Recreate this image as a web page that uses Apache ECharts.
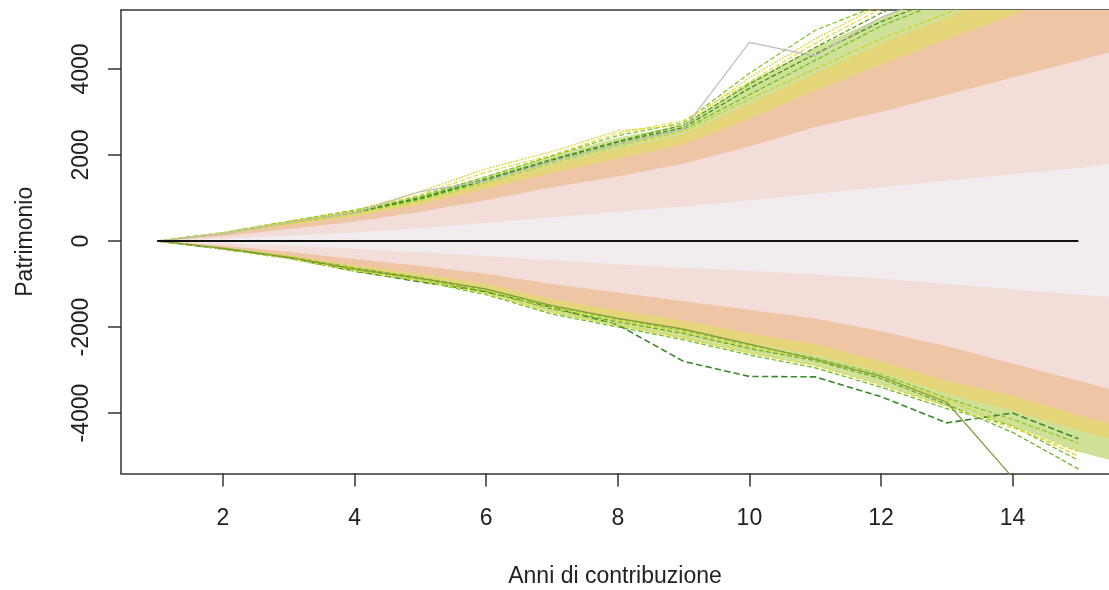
<!DOCTYPE html>
<html><head><meta charset="utf-8">
<script src="https://cdn.jsdelivr.net/npm/echarts@6/dist/echarts.min.js"></script>
<style>html,body{margin:0;padding:0;background:#fff}#c{width:1109px;height:590px}</style>
</head><body><div id="c"></div>
<script>
// ---- data ----
const bandYears = [1,2,3,4,5,6,7,8,9,10,11,12,13,14,15,15.5];
// upper envelope levels (outer -> inner)
const upOuter  = [0,195,460,700,1050,1500,1980,2400,2700,3700,4500,5200,5800,6400,7000,7300];
const upGreen  = [0,170,410,630,930,1330,1760,2140,2480,3200,3900,4600,5200,5800,6400,6700];
const upYellow = [0,150,370,570,850,1220,1580,1920,2250,2850,3500,4100,4700,5250,5850,6100];
const upTan    = [0,110,280,450,680,950,1250,1500,1800,2200,2650,3000,3400,3800,4200,4400];
const upPink   = [0,50,120,200,300,420,550,680,800,950,1100,1250,1400,1550,1700,1800];
// lower envelope levels (outer -> inner)
const loOuter  = [0,-190,-410,-700,-930,-1230,-1680,-1980,-2280,-2620,-2900,-3350,-3850,-4300,-4900,-5100];
const loGreen  = [0,-170,-370,-630,-840,-1100,-1500,-1780,-2050,-2380,-2650,-3050,-3550,-3950,-4400,-4600];
const loYellow = [0,-150,-330,-570,-760,-1000,-1350,-1620,-1850,-2150,-2400,-2800,-3250,-3600,-4050,-4250];
const loTan    = [0,-110,-250,-420,-580,-760,-1000,-1200,-1400,-1600,-1800,-2100,-2450,-2850,-3250,-3450];
const loPink   = [0,-50,-110,-180,-260,-350,-450,-540,-620,-700,-780,-880,-1000,-1120,-1250,-1300];

// individual outlying paths
const pathYears = [1,2,3,4,5,6,7,8,9,10,11,12,13,14,15];
const upG1   = [0,185,450,690,1010,1450,1900,2320,2700,3650,4500,5300,6000,null,null];
const upG2   = [0,175,420,650,970,1400,1850,2250,2600,3400,4200,5000,5600,6300,null];
const upG3   = [0,180,430,670,990,1420,1880,2300,2640,3550,4350,5100,5700,6400,7000];
const upG4   = [0,195,460,720,1050,1500,1980,2450,2750,3900,4900,5500,null,null,null];
const upY1   = [0,190,460,700,1150,1680,2080,2560,2700,3800,4700,5500,null,null,null];
const upY2   = [0,170,410,640,940,1350,1800,2200,2550,3300,4000,4700,5300,5900,6500];
const upY3   = [0,180,440,680,1080,1600,2000,2500,2800,3700,4600,5400,null,null,null];
const upGray = [0,170,430,660,1150,1400,1850,2250,2600,4620,4300,5200,5800,null,null];
const loG1   = [0,-185,-390,-700,-950,-1180,-1540,-1950,-2800,-3150,-3160,-3620,-4230,-4000,-4600];
const loG2   = [0,-180,-380,-670,-890,-1170,-1580,-1880,-2150,-2500,-2780,-3200,-3800,-4450,-5300];
const loG3   = [0,-160,-360,-620,-850,-1120,-1520,-1820,-2080,-2420,-2720,-3100,-3650,-4150,-4700];
const loG4   = [0,-190,-410,-700,-930,-1250,-1700,-2000,-2300,-2650,-2950,-3400,-3900,-4300,-5100];
const loY1   = [0,-175,-370,-650,-880,-1150,-1560,-1850,-2120,-2460,-2750,-3150,-3700,-4300,-5000];
const loY2   = [0,-180,-400,-690,-920,-1220,-1650,-1950,-2250,-2600,-2900,-3350,-3850,-4350,-4900];
const loOlive= [0,-170,-380,-650,-870,-1120,-1500,-1800,-2050,-2400,-2750,-3150,-3750,-5500,null];
const zeroYears = [1,15];
const zeroVals  = [0,0];

const xTicks = [2,4,6,8,10,12,14];
const yTicks = [-4000,-2000,0,2000,4000];

// ---- chart ----
const pairs = (xs, ys) => xs.map((x,i) => [x, ys[i]]);
const FONT = "'Liberation Sans', Arial, sans-serif";
const TXT = '#222';
const AX = '#333';

function band(vals, color){
  return {type:'line', data:pairs(bandYears, vals), symbol:'none', silent:true,
    lineStyle:{width:0}, areaStyle:{color:color, opacity:1, origin:'auto'}, z:2};
}
function path(vals, color, type, width){
  return {type:'line', data:pairs(pathYears, vals), symbol:'none', silent:true, connectNulls:false,
    lineStyle:{color:color, width:width||1.2, type:type}, z:3};
}

const series = [
  band(upOuter,'#CFE196'), band(upGreen,'#E4D678'), band(upYellow,'#EEC6A6'),
  band(upTan,'#F2DDD8'), band(upPink,'#F1EDEF'),
  band(loOuter,'#CFE196'), band(loGreen,'#E4D678'), band(loYellow,'#EEC6A6'),
  band(loTan,'#F2DDD8'), band(loPink,'#F1EDEF'),
  path(upG1,'#4E9E16','dashed'), path(upG2,'#6DBE1E','dashed'), path(upG3,'#3E8A14','dashed'),
  path(upG4,'#7CC21E','dashed'),
  path(upY1,'#D3D62A','dotted',1.5), path(upY2,'#C9D12A','dashed'), path(upY3,'#E0DA3A','dashed'),
  path(upGray,'#BDBDBD','solid',1.2),
  path(loG1,'#3A8A2A','dashed',1.6), path(loG2,'#5DAE1A','dashed'), path(loG3,'#8DC32A','dashed'),
  path(loG4,'#6BB81E','dashed'), path(loY2,'#E0DA3A','dashed'),
  path(loY1,'#D6D42A','dashed'), path(loOlive,'#7E9A3A','solid',1.2),
  {type:'line', data:pairs(zeroYears, zeroVals), symbol:'none', silent:true,
   lineStyle:{color:'#111', width:2}, z:5}
];

const chart = echarts.init(document.getElementById('c'), null, {renderer:'canvas'});
chart.setOption({
  animation:false,
  backgroundColor:'#fff',
  textStyle:{fontFamily:FONT},
  grid:{left:121, right:0, top:10, bottom:116.5, containLabel:false, outerBoundsMode:'none'},
  xAxis:[{
    type:'value', min:0.45, max:15.465, position:'bottom',
    axisLine:{show:true, onZero:false, lineStyle:{color:AX, width:1.5}},
    axisTick:{show:true, length:13, customValues:xTicks, lineStyle:{color:AX, width:1.5}},
    axisLabel:{customValues:xTicks, margin:34, fontSize:23, color:TXT, fontFamily:FONT,
      formatter:v => String(v)},
    splitLine:{show:false},
    name:'Anni di contribuzione', nameLocation:'middle', nameGap:92,
    nameTextStyle:{fontSize:23, color:TXT, fontFamily:FONT}
  },{
    type:'value', min:0.45, max:15.465, position:'top',
    axisLine:{show:true, onZero:false, lineStyle:{color:AX, width:1.5}},
    axisTick:{show:false}, axisLabel:{show:false}, splitLine:{show:false}
  }],
  yAxis:{
    type:'value', min:-5407, max:5372, position:'left',
    axisLine:{show:true, onZero:false, lineStyle:{color:AX, width:1.5}},
    axisTick:{show:true, length:13, customValues:yTicks, lineStyle:{color:AX, width:1.5}},
    axisLabel:{customValues:yTicks, rotate:90, margin:28, fontSize:23, color:TXT, fontFamily:FONT,
      formatter:v => String(v)},
    splitLine:{show:false},
    name:'Patrimonio', nameLocation:'middle', nameGap:84,
    nameTextStyle:{fontSize:23, color:TXT, fontFamily:FONT}
  },
  series: series
});
</script>
</body></html>
